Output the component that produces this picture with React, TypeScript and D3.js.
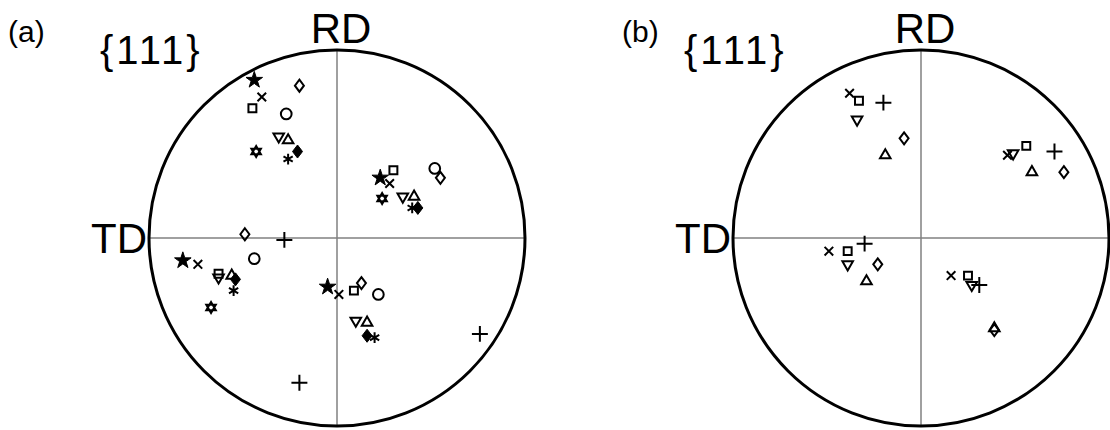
import React, { useEffect, useRef } from "react";
import * as d3 from "d3";

// pole positions in the unit circle, [x, y] with +y toward RD
const panelA_star = [[-0.44, 0.84], [0.23, 0.32], [-0.82, -0.12], [-0.05, -0.26]];
const panelA_times = [[-0.40, 0.75], [0.28, 0.29], [-0.74, -0.14], [0.01, -0.30]];
const panelA_square = [[-0.45, 0.69], [0.30, 0.36], [-0.63, -0.19], [0.09, -0.28]];
const panelA_diamond = [[-0.20, 0.81], [0.55, 0.32], [-0.49, 0.02], [0.13, -0.24]];
const panelA_circle = [[-0.27, 0.66], [0.52, 0.37], [-0.44, -0.11], [0.22, -0.30]];
const panelA_triDown = [[-0.31, 0.54], [0.35, 0.22], [-0.63, -0.21], [0.10, -0.44]];
const panelA_triUp = [[-0.26, 0.52], [0.41, 0.22], [-0.56, -0.20], [0.16, -0.45]];
const panelA_diamondFilled = [[-0.21, 0.46], [0.43, 0.16], [-0.54, -0.22], [0.16, -0.52]];
const panelA_asterisk = [[-0.26, 0.42], [0.40, 0.16], [-0.55, -0.28], [0.20, -0.53]];
const panelA_hexagram = [[-0.43, 0.46], [0.24, 0.21], [-0.67, -0.37]];
const panelA_plus = [[-0.28, -0.01], [0.76, -0.51], [-0.20, -0.77]];

const panelB_times = [[-0.38, 0.77], [0.46, 0.44], [-0.49, -0.07], [0.16, -0.20]];
const panelB_square = [[-0.33, 0.73], [0.56, 0.49], [-0.39, -0.07], [0.25, -0.20]];
const panelB_plus = [[-0.20, 0.72], [0.71, 0.46], [-0.30, -0.03], [0.31, -0.25]];
const panelB_triDown = [[-0.34, 0.63], [0.49, 0.45], [-0.39, -0.14], [0.27, -0.25]];
const panelB_diamond = [[-0.09, 0.53], [0.76, 0.35], [-0.23, -0.14], [0.39, -0.49]];
const panelB_triUp = [[-0.19, 0.44], [0.59, 0.35], [-0.29, -0.23], [0.39, -0.48]];

const panels = [
    {
        label: "(a)", plane: "{111}", cx: 337, labelX: 8, planeX: 100,
        series: [
            {kind: "star", pts: panelA_star},
            {kind: "times", pts: panelA_times},
            {kind: "square", pts: panelA_square},
            {kind: "diamond", pts: panelA_diamond},
            {kind: "circle", pts: panelA_circle},
            {kind: "triDown", pts: panelA_triDown},
            {kind: "triUp", pts: panelA_triUp},
            {kind: "diamondFilled", pts: panelA_diamondFilled},
            {kind: "asterisk", pts: panelA_asterisk},
            {kind: "hexagram", pts: panelA_hexagram},
            {kind: "plus", pts: panelA_plus},
        ]
    },
    {
        label: "(b)", plane: "{111}", cx: 921, labelX: 622, planeX: 684,
        series: [
            {kind: "times", pts: panelB_times},
            {kind: "square", pts: panelB_square},
            {kind: "plus", pts: panelB_plus},
            {kind: "triDown", pts: panelB_triDown},
            {kind: "diamond", pts: panelB_diamond},
            {kind: "triUp", pts: panelB_triUp},
        ]
    }
];

const hexagramPath = (s: number) => {
    const up = d3.range(3).map(i => [s * Math.sin(i * 2 * Math.PI / 3), -s * Math.cos(i * 2 * Math.PI / 3)]);
    const dn = up.map(p => [p[0], -p[1]]);
    return "M" + up.join("L") + "Z" + "M" + dn.join("L") + "Z";
};

const diamondPath = (w: number, h: number) => `M0,${-h}L${w},0L0,${h}L${-w},0Z`;

function drawMarker(g: any, kind: string, x: number, y: number) {
    const sym = d3.symbol();
    let d = "";
    let fill = "none";
    let rot = 0;
    switch (kind) {
        case "star": d = sym.type(d3.symbolStar).size(85)()!; fill = "#000"; break;
        case "times": d = sym.type(d3.symbolTimes).size(50)()!; break;
        case "plus": d = sym.type(d3.symbolPlus).size(85)()!; break;
        case "square": d = sym.type(d3.symbolSquare2).size(80)()!; break;
        case "circle": d = sym.type(d3.symbolCircle).size(90)()!; break;
        case "diamond": d = diamondPath(4.5, 6); break;
        case "diamondFilled": d = diamondPath(5, 6.5); fill = "#000"; break;
        case "triUp": d = sym.type(d3.symbolTriangle2).size(80)()!; break;
        case "triDown": d = sym.type(d3.symbolTriangle2).size(80)()!; rot = 180; break;
        case "asterisk": d = sym.type(d3.symbolAsterisk).size(80)()!; break;
        case "hexagram": d = hexagramPath(5.5); break;
    }
    g.append("path")
        .attr("d", d)
        .attr("transform", `translate(${x},${y}) rotate(${rot})`)
        .attr("fill", fill)
        .attr("stroke", "#000")
        .attr("stroke-width", kind === "star" || kind === "diamondFilled" ? 1 : 2);
}

export default function App() {
    const ref = useRef<SVGSVGElement>(null);

    useEffect(() => {
        const svg = d3.select(ref.current);
        svg.selectAll("*").remove();
        const r = 188;
        const cy = 238;
        const font = "Arial, 'Liberation Sans', sans-serif";

        panels.forEach(p => {
            const xScale = d3.scaleLinear().domain([-1, 1]).range([p.cx - r, p.cx + r]);
            const yScale = d3.scaleLinear().domain([-1, 1]).range([cy + r, cy - r]);
            const g = svg.append("g");

            // reference axes
            g.append("line")
                .attr("x1", xScale(-1)).attr("x2", xScale(1))
                .attr("y1", yScale(0)).attr("y2", yScale(0))
                .attr("stroke", "#808080").attr("stroke-width", 1.5);
            g.append("line")
                .attr("x1", xScale(0)).attr("x2", xScale(0))
                .attr("y1", yScale(1)).attr("y2", yScale(-1))
                .attr("stroke", "#808080").attr("stroke-width", 1.5);

            g.append("circle")
                .attr("cx", xScale(0)).attr("cy", yScale(0))
                .attr("r", r)
                .attr("fill", "none").attr("stroke", "#000").attr("stroke-width", 3);

            // markers
            p.series.forEach(s => {
                s.pts.forEach(pt => drawMarker(g, s.kind, xScale(pt[0]), yScale(pt[1])));
            });

            // labels
            g.append("text")
                .attr("x", p.labelX).attr("y", 42)
                .attr("font-family", font).attr("font-size", 30)
                .text(p.label);
            g.append("text")
                .attr("x", p.planeX).attr("y", 64)
                .attr("font-family", font).attr("font-size", 40)
                .attr("letter-spacing", 3)
                .text(p.plane);
            g.append("text")
                .attr("x", xScale(0) + 4).attr("y", 43)
                .attr("text-anchor", "middle")
                .attr("font-family", font).attr("font-size", 42)
                .text("RD");
            g.append("text")
                .attr("x", xScale(-1) - 2).attr("y", 253)
                .attr("text-anchor", "end")
                .attr("font-family", font).attr("font-size", 42)
                .text("TD");
        });
    }, []);

    return (
        <div style={{position: "absolute", left: 0, top: 0}}>
            <svg ref={ref} width={1110} height={430} style={{display: "block", background: "#fff"}}></svg>
        </div>
    );
}
